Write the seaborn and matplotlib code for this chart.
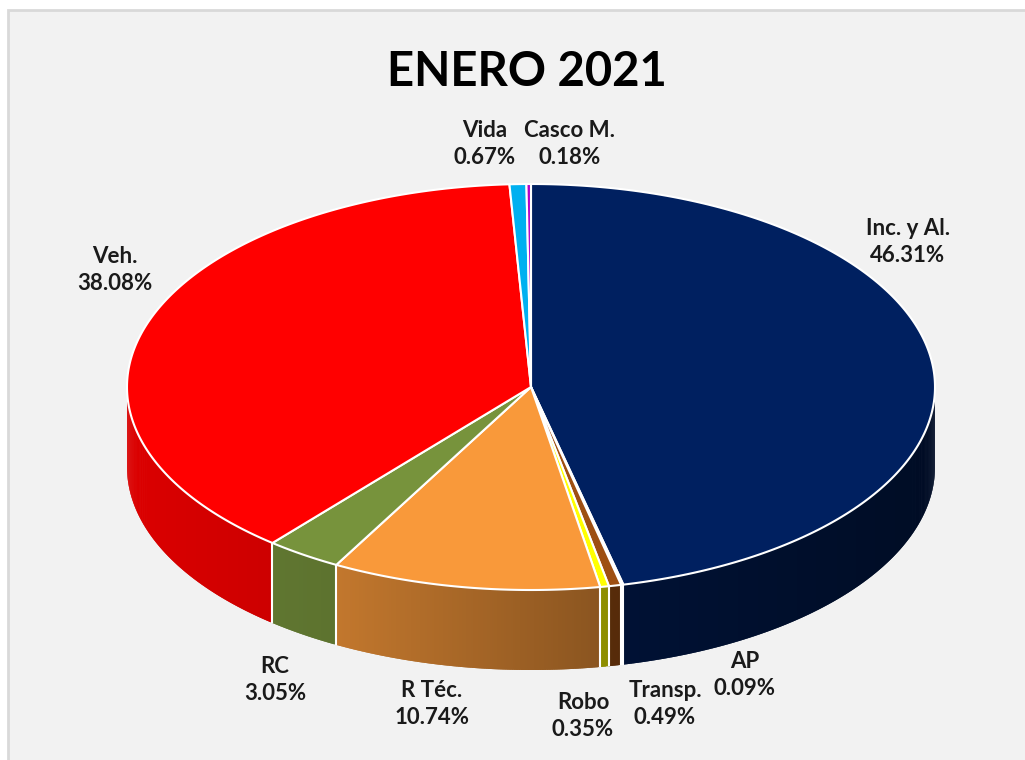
import numpy as np
import matplotlib
matplotlib.use("Agg")
import matplotlib.pyplot as plt
import seaborn as sns
from matplotlib.patches import Polygon, Rectangle
from matplotlib.colors import to_rgb

# ------------------------------------------
# Data
# ------------------------------------------
categories = ["Inc. y Al.", "AP", "Transp.", "Robo", "R Téc.", "RC", "Veh.", "Vida", "Casco M."]
shares = [46.31, 0.09, 0.49, 0.35, 10.74, 3.05, 38.08, 0.67, 0.18]
colors = ["#002060", "#DCE3EE", "#9E4F12", "#FFFF00", "#F9993A",
          "#77933C", "#FF0000", "#00B0F0", "#B400C8"]

# label anchor points (pixels) for each category
label_pos = [(908, 242), (745, 675), (665, 704), (583, 716), (432, 704),
             (275, 680), (115, 270), (485, 144), (570, 144)]

# ------------------------------------------
# Layout of the "3D" pie (pixels)
# ------------------------------------------
cx, cy = 531, 387
ra, rb = 404, 203
depth = 80

sns.set_theme(style="white")
plt.rcParams['font.family'] = ['Lato', 'DejaVu Sans']

fig = plt.figure(figsize=(10.25, 7.6), dpi=100, facecolor="white")
ax = fig.add_axes([0, 0, 1, 1])
ax.set_xlim(0, 1025)
ax.set_ylim(760, 0)
ax.axis("off")

ax.add_patch(Rectangle((8, 10), 1200, 900, facecolor="#F2F2F2",
                       edgecolor="#D9D9D9", lw=2, zorder=0))


def px(t):
    return cx + ra * np.sin(np.radians(t))


def py(t):
    return cy - rb * np.cos(np.radians(t))


def shade(t):
    # side wall gets darker from left to right
    u = (px(t) - (cx - ra)) / (2 * ra)
    return np.interp(u, [0, 0.26, 0.58, 1], [0.86, 0.78, 0.56, 0.38])


frac = np.array(shares) / np.sum(shares)
ends = np.cumsum(frac) * 360
starts = ends - frac * 360

# side walls (front half only: 90..270 degrees)
for s, e, c in zip(starts, ends, colors):
    lo, hi = max(s, 90), min(e, 270)
    if hi <= lo:
        continue
    n = max(2, int((hi - lo) * 3))
    tt = np.linspace(lo, hi, n + 1)
    step = tt[1] - tt[0]
    base = np.array(to_rgb(c))
    for i, (t0, t1) in enumerate(zip(tt[:-1], tt[1:])):
        col = base * shade((t0 + t1) / 2)
        t1x = min(t1 + step, hi)  # overlap into next strip to hide seams
        arc = np.linspace(t0, t1x, 4)
        quad = [(px(t), py(t)) for t in arc] + \
               [(px(t), py(t) + depth) for t in arc[::-1]]
        ax.add_patch(Polygon(quad, closed=True, facecolor=col,
                             edgecolor="none", lw=0, zorder=1))

# white separators on the side wall
for b in list(starts) + [ends[-1]]:
    b = b % 360
    if 90 <= b <= 270:
        ax.plot([px(b), px(b)], [py(b), py(b) + depth], color="white",
                lw=1.5, zorder=2, solid_capstyle="butt")

# top faces
for s, e, c in zip(starts, ends, colors):
    tt = np.linspace(s, e, max(3, int((e - s) * 2)))
    pts = [(cx, cy)] + [(px(t), py(t)) for t in tt]
    ax.add_patch(Polygon(pts, closed=True, facecolor=c, edgecolor="white",
                         lw=1.5, joinstyle="round", zorder=3))

# labels
for name, val, (lx, ly) in zip(categories, shares, label_pos):
    ax.text(lx, ly, f"{name}\n{val:.2f}%", ha="center", va="center",
            fontsize=16, fontweight="bold", color="#1A1A1A",
            linespacing=1.3, zorder=4)

ax.text(527, 72, "ENERO 2021", ha="center", va="center", fontsize=34,
        fontweight="bold", color="black", zorder=4)

plt.savefig("out.png", dpi=100, facecolor="white")
